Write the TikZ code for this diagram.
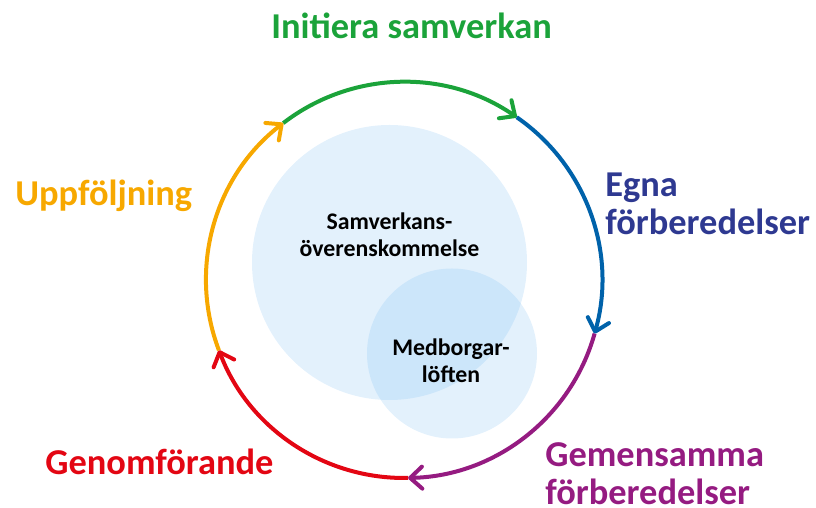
\documentclass[tikz,border=0pt]{standalone}
\usepackage{fontspec}
\setmainfont{Carlito}
\usetikzlibrary{arrows.meta}
\definecolor{cgreen}{RGB}{27,163,58}
\definecolor{cblue}{RGB}{0,98,170}
\definecolor{cnavy}{RGB}{46,57,145}
\definecolor{cpurple}{RGB}{149,27,129}
\definecolor{cred}{RGB}{227,6,19}
\definecolor{corange}{RGB}{247,168,0}
\definecolor{bubbleblue}{RGB}{122,188,241}
\begin{document}
\begin{tikzpicture}[x=0.5pt,y=0.5pt,
  ring/.style={line width=2pt,-{Straight Barb[length=6pt,width=11pt,round]}},
  bubble/.style={fill=bubbleblue,fill opacity=0.21},
  phase/.style={font=\fontsize{18.2}{19}\selectfont\bfseries,inner sep=0pt,align=left},
  inside/.style={font=\fontsize{11.9}{13.5}\selectfont\bfseries,inner sep=0pt,align=center}]
  \useasboundingbox (0,0) rectangle (816,508);
  % background circles
  \fill[bubble] (389.5,245.5) circle[radius=137.5];
  \fill[bubble] (452,154.5) circle[radius=85];
  \node[inside,anchor=north] (overens) at (389.5,296) {Samverkans-\\överenskommelse};
  \node[inside,anchor=north] (loften) at (451,170) {Medborgar-\\löften};
  % the cycle
  \coordinate (mid) at (404,228);
  \path (mid) ++(127.6:198) coordinate (p1)
        (mid) ++(55.3:198) coordinate (p2)
        (mid) ++(-15.7:198) coordinate (p3)
        (mid) ++(-88.8:198) coordinate (p4)
        (mid) ++(-159.2:198) coordinate (p5);
  \draw[ring,cgreen] (p1) arc[start angle=127.6,end angle=55.3,radius=198];
  \draw[ring,cblue] (p2) arc[start angle=55.3,end angle=-15.7,radius=198];
  \draw[ring,cpurple] (p3) arc[start angle=-15.7,end angle=-88.8,radius=198];
  \draw[ring,cred] (p4) arc[start angle=-88.8,end angle=-159.2,radius=198];
  \draw[ring,corange] (p5) arc[start angle=200.8,end angle=127.6,radius=198];
  % phase labels
  \node[phase,cgreen,anchor=base west] (initiera) at (271,469) {Initiera samverkan};
  \node[phase,cnavy,anchor=north west] (egna) at (605,335) {Egna\\förberedelser};
  \node[phase,cpurple,anchor=north west] (gemensamma) at (545,66) {Gemensamma\\förberedelser};
  \node[phase,cred,anchor=base west] (genomf) at (45,33) {Genomförande};
  \node[phase,corange,anchor=base west] (uppf) at (15,302) {Uppföljning};
\end{tikzpicture}
\end{document}
